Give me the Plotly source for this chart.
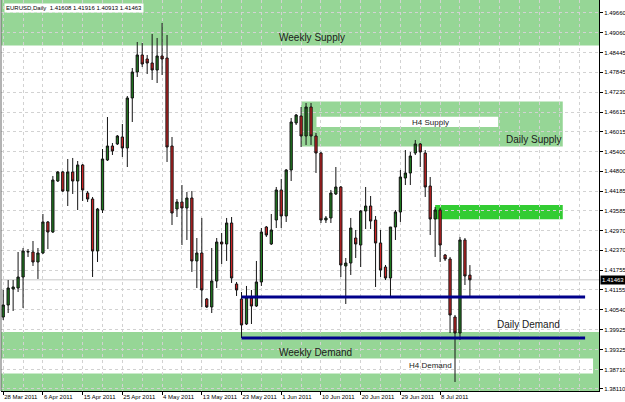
import plotly.graph_objects as go

# ---------------- data ----------------
tick_bars = [0, 8, 16, 24, 32, 40, 48, 56, 64, 72, 80, 88]
tick_dates = ["28 Mar 2011", "6 Apr 2011", "15 Apr 2011", "25 Apr 2011", "4 May 2011",
              "13 May 2011", "23 May 2011", "1 Jun 2011", "10 Jun 2011", "20 Jun 2011",
              "29 Jun 2011", "8 Jul 2011"]

price_ticks = [1.49660, 1.49060, 1.48445, 1.47845, 1.47230, 1.46615, 1.46015, 1.45400,
               1.44800, 1.44185, 1.43585, 1.42970, 1.42370, 1.41755, 1.41155, 1.40540,
               1.39925, 1.39325, 1.38710, 1.38110]

open_ = [1.40321, 1.40690, 1.41181, 1.41212, 1.41550, 1.42318, 1.42318, 1.42011, 1.42287, 1.43240,
         1.42932, 1.44499, 1.44776, 1.44192, 1.44776, 1.44499, 1.44991, 1.44130, 1.43946, 1.42349,
         1.43608, 1.45144, 1.45574, 1.45636, 1.45851, 1.45513, 1.47049, 1.47847, 1.48370, 1.48247,
         1.48124, 1.47909, 1.48339, 1.48277, 1.45574, 1.43639, 1.43854, 1.43670, 1.43977, 1.42042,
         1.42287, 1.40874, 1.40629, 1.41427, 1.42625, 1.42564, 1.43209, 1.41335, 1.40874, 1.40106,
         1.40905, 1.40659, 1.41397, 1.43086, 1.42564, 1.43301, 1.44223, 1.43424, 1.44837, 1.46281,
         1.46496, 1.45881, 1.46772, 1.45881, 1.45359, 1.43301, 1.43363, 1.44100, 1.44315, 1.41888,
         1.41980, 1.42748, 1.42533, 1.43578, 1.43731, 1.43301, 1.42595, 1.41857, 1.41519, 1.43086,
         1.43547, 1.44591, 1.44745, 1.45359, 1.45636, 1.45359, 1.44345, 1.43332, 1.43608, 1.42226,
         1.42103, 1.40321, 1.39830, 1.42687, 1.41608]

high = [1.41151, 1.41458, 1.41458, 1.42318, 1.42441, 1.42410, 1.42656, 1.42441, 1.43485, 1.43270,
        1.44653, 1.44806, 1.44806, 1.45175, 1.45206, 1.45113, 1.45021, 1.44192, 1.44008, 1.43670,
        1.45482, 1.46465, 1.45666, 1.45912, 1.46250, 1.47110, 1.47970, 1.48769, 1.48738, 1.48370,
        1.49015, 1.48892, 1.49353, 1.48984, 1.45851, 1.43946, 1.44376, 1.44161, 1.44192, 1.42748,
        1.43363, 1.40905, 1.42441, 1.42748, 1.42902, 1.43363, 1.43393, 1.41397, 1.41089, 1.41274,
        1.41151, 1.42042, 1.43055, 1.43117, 1.43485, 1.44315, 1.44561, 1.44868, 1.46434, 1.46557,
        1.46772, 1.46895, 1.46895, 1.45973, 1.45390, 1.43424, 1.44223, 1.44929, 1.44345, 1.42134,
        1.43363, 1.42994, 1.43608, 1.44315, 1.44038, 1.43424, 1.42994, 1.41919, 1.43086, 1.43608,
        1.44837, 1.45451, 1.45390, 1.45758, 1.45666, 1.45451, 1.44622, 1.43700, 1.43670, 1.42257,
        1.42165, 1.40383, 1.42779, 1.42748, 1.41916]

low = [1.40229, 1.40444, 1.40506, 1.41089, 1.40598, 1.42165, 1.41888, 1.41489, 1.42257, 1.42410,
       1.42902, 1.44468, 1.44161, 1.43731, 1.44100, 1.43608, 1.43885, 1.43854, 1.41550, 1.42011,
       1.43516, 1.45113, 1.45298, 1.45605, 1.45236, 1.44929, 1.46311, 1.47694, 1.48001, 1.47786,
       1.47602, 1.47509, 1.47755, 1.45083, 1.43147, 1.43393, 1.42533, 1.42687, 1.41704, 1.41212,
       1.40629, 1.40598, 1.40444, 1.41212, 1.41949, 1.42042, 1.41366, 1.40967, 1.39676, 1.40076,
       1.40106, 1.40629, 1.41274, 1.42779, 1.42533, 1.43055, 1.43055, 1.43240, 1.44499, 1.46219,
       1.45543, 1.45605, 1.45605, 1.44745, 1.43209, 1.43209, 1.43209, 1.44069, 1.41550, 1.40721,
       1.41612, 1.42134, 1.41857, 1.43025, 1.43025, 1.41243, 1.41550, 1.41458, 1.40936, 1.42687,
       1.43240, 1.44376, 1.44376, 1.45298, 1.44929, 1.44008, 1.42840, 1.42165, 1.42011, 1.42042,
       1.39830, 1.38325, 1.39615, 1.41304, 1.40913]

close = [1.40690, 1.41212, 1.41243, 1.41550, 1.42349, 1.42330, 1.42011, 1.42287, 1.43240, 1.42932,
         1.44530, 1.44776, 1.44192, 1.44776, 1.44499, 1.44991, 1.44223, 1.43946, 1.42349, 1.43639,
         1.45175, 1.45574, 1.45421, 1.45881, 1.45513, 1.47049, 1.47847, 1.48370, 1.48093, 1.48124,
         1.47909, 1.48339, 1.48247, 1.45543, 1.43516, 1.43854, 1.43670, 1.43977, 1.42042, 1.42287,
         1.41151, 1.40629, 1.41427, 1.42625, 1.42564, 1.43209, 1.41519, 1.41151, 1.40076, 1.40936,
         1.40659, 1.41397, 1.42932, 1.42840, 1.42994, 1.44223, 1.43424, 1.44837, 1.46311, 1.46526,
         1.45881, 1.46772, 1.45881, 1.45359, 1.43301, 1.43363, 1.44130, 1.44315, 1.41919, 1.41980,
         1.43055, 1.42564, 1.43578, 1.43731, 1.43270, 1.42595, 1.41765, 1.41519, 1.43086, 1.43547,
         1.44622, 1.44745, 1.45267, 1.45636, 1.45390, 1.44315, 1.43332, 1.43608, 1.42533, 1.42103,
         1.40383, 1.39830, 1.42687, 1.41581, 1.41463]

bars = list(range(len(open_)))
symbol = "EURUSD,Daily"
last_price = close[-1]

# zone price levels
weekly_supply_low = 1.48661
daily_supply = (1.45559, 1.46941)
h4_supply = (1.46158, 1.46474)
fresh_zone = (1.43323, 1.43762)
weekly_demand_high = 1.39860
h4_demand = (1.38585, 1.39046)
daily_demand_line = 1.40936
weekly_demand_line = 1.39676

# ---------------- figure ----------------
ZONE = "#96d696"
GRID = "#d2d2d2"
FONT = "Liberation Sans, Arial, sans-serif"
fig = go.Figure()
fig.add_trace(go.Candlestick(
    x=bars, open=open_, high=high, low=low, close=close,
    increasing=dict(line=dict(color="#141414", width=1), fillcolor="#1f7a1f"),
    decreasing=dict(line=dict(color="#141414", width=1), fillcolor="#cc2222"),
    whiskerwidth=0, showlegend=False, hoverinfo="skip"))

shapes = [
    dict(type="rect", xref="paper", yref="y", x0=0, x1=1, y0=weekly_supply_low, y1=1.5100,
         fillcolor=ZONE, line=dict(width=0), layer="below"),
    dict(type="rect", xref="x", yref="y", x0=60, x1=112.7, y0=daily_supply[0], y1=daily_supply[1],
         fillcolor=ZONE, line=dict(width=0), layer="below"),
    dict(type="rect", xref="x", yref="y", x0=63.1, x1=99.7, y0=h4_supply[0], y1=h4_supply[1],
         fillcolor="white", line=dict(width=0), layer="below"),
    dict(type="rect", xref="x", yref="y", x0=87, x1=112.7, y0=fresh_zone[0], y1=fresh_zone[1],
         fillcolor="#33cc33", line=dict(width=0), layer="below"),
    dict(type="rect", xref="paper", yref="y", x0=0, x1=1, y0=1.3700, y1=weekly_demand_high,
         fillcolor=ZONE, line=dict(width=0), layer="below"),
    dict(type="rect", xref="x", yref="y", x0=-2, x1=118.8, y0=h4_demand[0], y1=h4_demand[1],
         fillcolor="white", line=dict(width=0), layer="below"),
    dict(type="line", xref="paper", yref="y", x0=0, x1=1, y0=last_price, y1=last_price,
         line=dict(color="#c8c8c8", width=1), layer="below"),
    dict(type="line", xref="x", yref="y", x0=48, x1=117.2, y0=daily_demand_line, y1=daily_demand_line,
         line=dict(color="#00008b", width=3), layer="above"),
    dict(type="line", xref="x", yref="y", x0=48, x1=117.2, y0=weekly_demand_line, y1=weekly_demand_line,
         line=dict(color="#00008b", width=3), layer="above"),
    dict(type="line", xref="paper", yref="paper", x0=0, x1=0, y0=0, y1=1,
         line=dict(color="#666666", width=1), layer="above"),
]

TXT = dict(family=FONT, color="#1a1a1a")
annotations = [
    dict(x=62.2, y=1.48892, text="Weekly Supply", font=dict(size=10, **TXT)),
    dict(x=86.0, y=1.46296, text="H4 Supply", font=dict(size=8, **TXT)),
    dict(x=106.9, y=1.45789, text="Daily Supply", font=dict(size=10, **TXT)),
    dict(x=105.7, y=1.40106, text="Daily Demand", font=dict(size=10, **TXT)),
    dict(x=62.8, y=1.39246, text="Weekly Demand", font=dict(size=10, **TXT)),
    dict(x=86.0, y=1.38831, text="H4 Demand", font=dict(size=8, **TXT)),
]
for a in annotations:
    a.update(xref="x", yref="y", showarrow=False)
annotations.append(dict(
    xref="paper", yref="paper", x=0, y=1, xanchor="left", yanchor="top", xshift=3, yshift=-3,
    text=f"{symbol}  {open_[-1]:.5f} {high[-1]:.5f} {low[-1]:.5f} {close[-1]:.5f}",
    showarrow=False, bgcolor="white", borderpad=1,
    font=dict(size=6, family=FONT, color="black")))
annotations.append(dict(
    xref="paper", yref="y", x=1, y=last_price, xanchor="left", yanchor="middle", xshift=1,
    text=f"{last_price:.5f}", showarrow=False, bgcolor="black", borderpad=1,
    font=dict(size=6, family=FONT, color="white")))

fig.update_layout(
    width=625, height=402,
    margin=dict(l=1, r=26, t=0, b=11, autoexpand=False),
    paper_bgcolor="white", plot_bgcolor="white",
    boxgap=0.35,
    shapes=shapes, annotations=annotations,
    showlegend=False,
    font=dict(family=FONT, size=6, color="black"),
    xaxis=dict(
        range=[-0.443, 120.0], rangeslider=dict(visible=False), automargin=False,
        tickmode="array", tickvals=tick_bars, ticktext=tick_dates, tickangle=0,
        ticklabelposition="outside right", ticks="outside", ticklen=3, tickcolor="black",
        tickfont=dict(size=6), showgrid=True, gridcolor=GRID, griddash="dot", gridwidth=1,
        minor=dict(tickmode="linear", tick0=0, dtick=4, showgrid=True, gridcolor=GRID,
                   griddash="dot", gridwidth=1, ticks=""),
        zeroline=False, showline=True, linecolor="black", linewidth=1, fixedrange=True),
    yaxis=dict(
        range=[1.38048, 1.50059], side="right", automargin=False,
        tickmode="array", tickvals=price_ticks, ticktext=[f"{v:.5f}" for v in price_ticks],
        ticks="outside", ticklen=3, tickcolor="black", tickfont=dict(size=6),
        showgrid=True, gridcolor=GRID, griddash="dot", gridwidth=1,
        zeroline=False, showline=True, linecolor="black", linewidth=1, fixedrange=True),
)

fig.write_html("out.html", config=dict(displayModeBar=False))
